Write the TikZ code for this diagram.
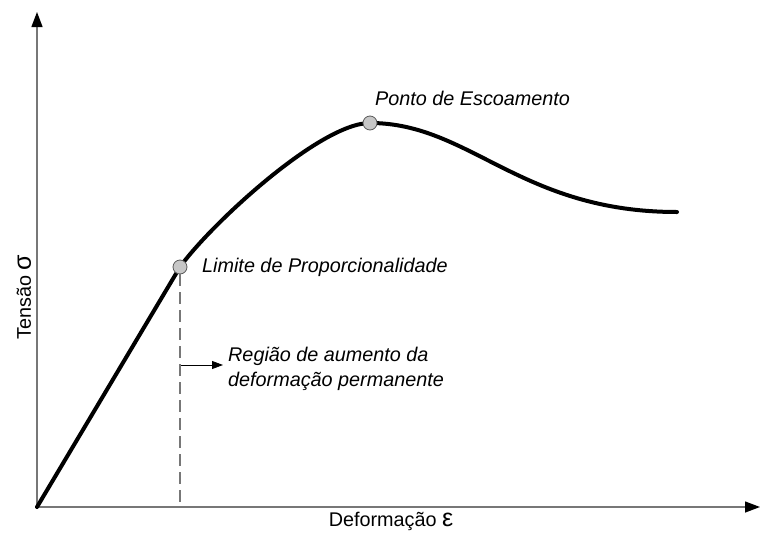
\documentclass[tikz,border=0pt]{standalone}
\usepackage{fontspec}
\setmainfont{Liberation Sans}
\usetikzlibrary{arrows.meta,positioning}
\definecolor{eixocor}{HTML}{777777}
\tikzstyle{eixo} = [draw=eixocor, line width=1.3pt, -{Triangle[length=15pt,width=11pt,color=black]}]
\tikzstyle{curva} = [draw=black, line width=4pt, line cap=round, line join=round]
\tikzstyle{ponto} = [draw=black!65, fill=black!22, circle, line width=0.8pt, inner sep=0pt, minimum size=14pt]
\tikzstyle{tracejado} = [draw=eixocor, line width=1.3pt, dash pattern=on 12pt off 6pt]
\tikzstyle{seta} = [draw=black, line width=0.8pt, -{Triangle[length=11pt,width=8pt]}]
\tikzstyle{rotulo} = [font=\fontsize{19.8}{25}\selectfont\itshape, inner sep=0pt]
\tikzstyle{eixotxt} = [font=\fontsize{19.8}{25}\selectfont, inner sep=0pt]
\newcommand{\grego}[1]{{\fontsize{25}{25}\selectfont #1}}

\begin{document}
\begin{tikzpicture}[x=1pt,y=-1pt]

  \useasboundingbox (0,0) rectangle (760,533);

  \coordinate (O) at (37,507);
  \coordinate (xfim) at (760,507);
  \coordinate (yfim) at (37,12);
  \coordinate (pl) at (180,267);
  \coordinate (pe) at (370,123);
  \coordinate (fim) at (677,212);

  % eixos
  \draw[eixo] (O) -- (xfim);
  \draw[eixo] (O) -- (yfim);

  % curva tensao x deformacao
  \draw[curva] (O) -- (pl) .. controls (210,225) and (320,123) .. (pe)
    .. controls (470,123) and (520,212) .. (fim);

  \node[ponto] (lim) at (pl) {};
  \node[ponto] (esc) at (pe) {};

  \draw[tracejado] (lim) -- (lim |- O);

  \node[rotulo, anchor=base west] (limtxt) at (202,272) {Limite de Proporcionalidade};
  \node[rotulo, anchor=base west] (esctxt) at (375,105) {Ponto de Escoamento};
  \node[rotulo, anchor=west, align=left] (regiao) at (228,369)
    {Região de aumento da\\deformação permanente};

  \coordinate (ra) at (181,365);
  \draw[seta] (ra) -- (ra -| regiao.west) [shorten >=5pt];

  \node[eixotxt, rotate=90] (ytxt) at (24,297) {Tensão \grego{σ}};
  \node[eixotxt, anchor=base] (xtxt) at (391,526) {Deformação \grego{ε}};

\end{tikzpicture}
\end{document}
